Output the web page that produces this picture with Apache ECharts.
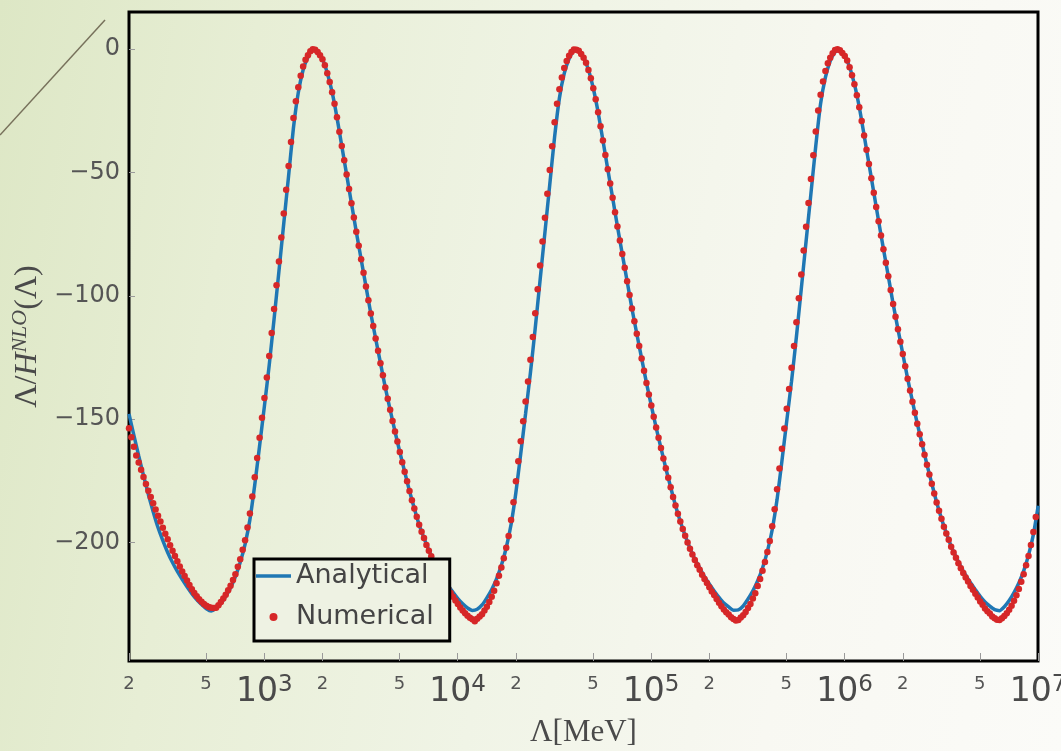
<!DOCTYPE html>
<html>
<head>
<meta charset="utf-8">
<script src="https://cdn.jsdelivr.net/npm/echarts@6/dist/echarts.min.js"></script>
<style>
html,body{margin:0;padding:0;width:1061px;height:751px;overflow:hidden;
background:linear-gradient(100deg,#dde7c5 0%,#e7eed5 22%,#f0f4e6 50%,#f8f8f2 75%,#fbfbf8 100%);}
#chart{width:1061px;height:751px;}
</style>
</head>
<body>
<div id="chart"></div>
<script>
// Tick values (MeV) and y ticks
const xTickValues = [200, 500, 1000, 2000, 5000, 10000, 20000, 50000, 100000, 200000, 500000, 1000000, 2000000, 5000000, 10000000];
const yTickValues = [-200, -150, -100, -50, 0];
const seriesNames = ['Analytical', 'Numerical'];

// Sampling grid: first sample at 200 MeV, uniform spacing in log10(Lambda)
const lambdaStart = 200;
const analyticalLogStep = 0.025;
const numericalLogStep = 0.0125;

const analyticalValues = [
-147.9,-156.5,-164.8,-172.8,-180.5,-187.5,-193.9,-199.2,-204.0,-208.1,
-211.7,-214.9,-217.9,-220.7,-223.1,-225.1,-226.8,-227.7,-226.7,-224.7,
-221.8,-218.3,-213.8,-208.0,-200.7,-190.7,-176.7,-160.9,-144.7,-128.0,
-109.4,-90.1,-70.7,-51.4,-32.0,-17.7,-8.5,-3.2,-0.3,-1.1,
-4.0,-9.7,-17.5,-27.7,-39.3,-50.9,-62.5,-74.1,-85.2,-96.2,
-107.2,-117.3,-127.3,-137.2,-146.2,-155.0,-163.3,-171.3,-179.1,-186.2,
-192.8,-198.2,-203.1,-207.4,-211.0,-214.3,-217.4,-220.2,-222.7,-224.8,
-226.5,-227.5,-227.0,-225.3,-222.4,-219.0,-214.7,-209.2,-202.1,-192.7,
-179.7,-164.0,-147.8,-131.3,-113.1,-93.7,-74.4,-55.0,-35.7,-19.9,
-9.9,-4.0,-0.7,-0.6,-3.4,-8.4,-15.9,-25.6,-37.1,-48.7,
-60.3,-71.9,-83.1,-94.1,-105.2,-115.4,-125.4,-135.3,-144.5,-153.4,
-161.7,-169.9,-177.6,-185.0,-191.5,-197.2,-202.3,-206.7,-210.3,-213.8,
-216.8,-219.6,-222.2,-224.5,-226.1,-227.4,-227.3,-225.7,-222.9,-219.6,
-215.5,-210.3,-203.6,-194.8,-182.6,-167.1,-150.8,-134.6,-116.7,-97.4,
-78.0,-58.7,-39.4,-22.2,-11.5,-4.8,-1.2,-0.3,-2.7,-7.3,
-14.2,-23.5,-34.9,-46.5,-58.1,-69.7,-81.0,-92.0,-103.2,-113.5,
-123.5,-133.5,-142.8,-151.8,-160.1,-168.4,-176.1,-183.7,-190.3,-196.2,
-201.5,-205.8,-209.7,-213.2,-216.3,-219.1,-221.8,-224.1,-225.8,-227.2,
-227.6,-226.0,-223.5,-220.3,-216.4,-211.5,-205.1,-196.8,-185.1
];

const numericalValues = [
-153.7,-157.3,-161.2,-164.7,-167.6,-170.5,-173.4,-176.3,-179.0,-181.5,
-184.1,-186.6,-189.1,-191.5,-194.0,-196.4,-198.7,-201.1,-203.3,-205.5,
-207.6,-209.7,-211.7,-213.6,-215.4,-217.2,-218.9,-220.4,-221.8,-223.0,
-224.0,-224.9,-225.6,-226.1,-226.4,-226.5,-226.4,-225.4,-224.1,-222.7,
-221.2,-219.3,-217.5,-215.2,-212.8,-209.8,-206.8,-202.9,-199.1,-193.9,
-188.2,-181.3,-173.5,-165.7,-157.5,-149.4,-141.4,-133.1,-124.4,-115.1,
-105.4,-95.7,-86.1,-76.4,-66.7,-57.0,-47.4,-37.7,-28.0,-21.2,
-15.5,-10.8,-7.1,-4.4,-2.5,-0.9,-0.1,-0.3,-1.2,-2.5,
-4.1,-6.6,-9.8,-13.4,-17.5,-22.2,-27.7,-33.5,-39.3,-45.1,
-50.9,-56.7,-62.5,-68.3,-74.1,-79.7,-85.2,-90.7,-96.2,-101.8,
-107.2,-112.2,-117.3,-122.3,-127.3,-132.2,-137.2,-141.7,-146.2,-150.7,
-155.0,-159.1,-163.3,-167.5,-171.3,-175.2,-179.1,-182.9,-186.2,-189.5,
-192.8,-195.6,-198.2,-201.0,-203.3,-205.6,-207.9,-209.8,-211.8,-213.7,
-215.3,-217.1,-218.8,-220.4,-222.0,-223.5,-224.9,-226.3,-227.5,-228.6,
-229.7,-230.5,-231.1,-231.9,-230.9,-230.0,-229.1,-227.5,-226.0,-224.1,
-222.0,-219.5,-216.5,-213.5,-210.1,-206.4,-202.1,-197.3,-190.9,-183.7,
-175.2,-167.1,-158.9,-150.8,-142.8,-134.7,-125.9,-116.7,-107.1,-97.4,
-87.7,-78.0,-68.4,-58.7,-49.0,-39.4,-29.7,-22.2,-16.3,-11.5,
-7.7,-4.9,-2.7,-1.2,-0.2,-0.3,-0.7,-2.0,-3.5,-5.6,
-8.5,-11.8,-15.9,-20.4,-25.6,-31.3,-37.1,-42.9,-48.7,-54.5,
-60.3,-66.1,-71.9,-77.6,-83.1,-88.6,-94.1,-99.7,-105.2,-110.3,
-115.4,-120.4,-125.4,-130.4,-135.3,-140.0,-144.5,-149.0,-153.4,-157.5,
-161.7,-165.9,-169.9,-173.7,-177.6,-181.5,-185.0,-188.3,-191.5,-194.5,
-197.2,-200.0,-202.5,-204.8,-207.1,-209.2,-211.0,-213.0,-214.8,-216.4,
-218.1,-219.8,-221.3,-222.9,-224.4,-225.8,-227.1,-228.2,-229.2,-230.3,
-231.0,-231.6,-231.4,-230.4,-229.5,-228.1,-226.5,-224.9,-222.7,-220.5,
-217.6,-214.8,-211.4,-207.9,-203.8,-199.4,-193.4,-186.5,-178.4,-170.0,
-162.0,-153.8,-145.8,-137.8,-129.2,-120.4,-110.7,-101.0,-91.4,-81.7,
-72.0,-62.4,-52.7,-43.0,-33.4,-24.9,-18.5,-13.2,-8.9,-5.8,
-3.5,-1.7,-0.4,-0.1,-0.5,-1.6,-2.8,-4.7,-7.4,-10.6,
-14.3,-18.7,-23.6,-29.2,-35.0,-40.8,-46.6,-52.4,-58.2,-64.0,
-69.8,-75.6,-81.1,-86.6,-92.1,-97.7,-103.3,-108.5,-113.6,-118.6,
-123.6,-128.6,-133.6,-138.4,-142.9,-147.4,-151.9,-156.1,-160.2,-164.4,
-168.5,-172.4,-176.2,-180.1,-183.8,-187.1,-190.4,-193.6,-196.3,-198.9,
-201.7,-204.0,-206.2,-208.4,-210.4,-212.3,-214.2,-215.8,-217.6,-219.1,
-220.7,-222.3,-223.9,-225.2,-226.7,-227.8,-228.8,-230.0,-230.7,-231.3,
-231.4,-230.7,-229.8,-228.6,-227.2,-225.6,-223.6,-221.4,-218.8,-215.9,
-212.8,-209.2,-205.4,-201.0,-195.7,-189.6
];

const analyticalData = analyticalValues.map((v, i) => [lambdaStart * Math.pow(10, i * analyticalLogStep), v]);
const numericalData = numericalValues.map((v, i) => [lambdaStart * Math.pow(10, i * numericalLogStep), v]);

function formatX(v) {
  const e = Math.floor(Math.log10(v) + 1e-9);
  const m = Math.round(v / Math.pow(10, e));
  if (m === 1) return '{b|10}{s|' + e + '}';
  return '{m|' + m + '}';
}

const chart = echarts.init(document.getElementById('chart'), null, {renderer: 'canvas'});
const option = {
  animation: false,
  backgroundColor: 'transparent',
  graphic: [{
    type: 'line', silent: true,
    shape: {x1: 0, y1: 135, x2: 105, y2: 20},
    style: {stroke: '#77715b', lineWidth: 1.5}
  }],
  grid: {left: 129, top: 12, width: 909, height: 649, show: true,
         containLabel: false, outerBoundsMode: 'none',
         borderColor: '#000', borderWidth: 3, backgroundColor: 'transparent'},
  xAxis: {
    type: 'log', logBase: 10, min: 200, max: 10000000,
    name: 'Λ[MeV]', nameLocation: 'middle', nameGap: 56,
    nameTextStyle: {fontFamily: 'Liberation Serif', fontSize: 31, color: '#4a4a4a'},
    axisLine: {show: false, onZero: false}, splitLine: {show: false},
    minorTick: {show: false}, minorSplitLine: {show: false},
    axisTick: {show: true, inside: true, length: 8, customValues: xTickValues,
               lineStyle: {color: '#9a9a9a', width: 1}},
    axisLabel: {
      customValues: xTickValues, margin: 13, formatter: formatX,
      rich: {
        m: {fontFamily: 'DejaVu Sans', fontSize: 18, lineHeight: 20, color: '#555'},
        b: {fontFamily: 'DejaVu Sans', fontSize: 33, lineHeight: 36, color: '#4a4a4a'},
        s: {fontFamily: 'DejaVu Sans', fontSize: 23, lineHeight: 12, color: '#4a4a4a', verticalAlign: 'top'}
      }
    }
  },
  yAxis: {
    type: 'value', min: -248, max: 15,
    name: '{n|Λ/}{h|H}{s|NLO}{n|(Λ)}', nameLocation: 'middle', nameGap: 82, nameRotate: 90,
    nameTextStyle: {
      rich: {
        n: {fontFamily: 'Liberation Serif', fontSize: 32, lineHeight: 36, color: '#4a4a4a'},
        h: {fontFamily: 'Liberation Serif', fontStyle: 'italic', fontSize: 32, lineHeight: 36, color: '#4a4a4a'},
        s: {fontFamily: 'Liberation Serif', fontStyle: 'italic', fontSize: 22, lineHeight: 12, color: '#4a4a4a', verticalAlign: 'top'}
      }
    },
    axisLine: {show: false, onZero: false}, splitLine: {show: false},
    axisTick: {show: true, inside: true, length: 6, customValues: yTickValues,
               lineStyle: {color: '#9a9a9a', width: 1}},
    axisLabel: {
      customValues: yTickValues, margin: 9,
      fontFamily: 'DejaVu Sans', fontSize: 24, color: '#555',
      formatter: v => (v < 0 ? '\u2212' + Math.abs(v) : String(v))
    }
  },
  legend: {
    orient: 'vertical', left: 254, top: 559,
    padding: [2, 16, 9, 2], itemGap: 11, itemWidth: 35, itemHeight: 8,
    symbolKeepAspect: true,
    backgroundColor: '#eef2e3', borderColor: '#000', borderWidth: 3, borderRadius: 0,
    textStyle: {fontFamily: 'DejaVu Sans', fontSize: 27, color: '#444', lineHeight: 30},
    data: [
      {name: seriesNames[0], icon: 'path://M0,0L35,0L35,3.5L0,3.5Z'},
      {name: seriesNames[1], icon: 'circle'}
    ]
  },
  series: [
    {
      name: seriesNames[0], type: 'line', data: analyticalData,
      symbol: 'none', showSymbol: false, smooth: 0.2, clip: true,
      lineStyle: {color: '#1f77b4', width: 3.5},
      itemStyle: {color: '#1f77b4'}, z: 2
    },
    {
      name: seriesNames[1], type: 'scatter', data: numericalData,
      symbol: 'circle', symbolSize: 6.5, clip: true,
      itemStyle: {color: '#d62728', opacity: 1}, z: 3
    }
  ]
};
chart.setOption(option);
</script>
</body>
</html>
